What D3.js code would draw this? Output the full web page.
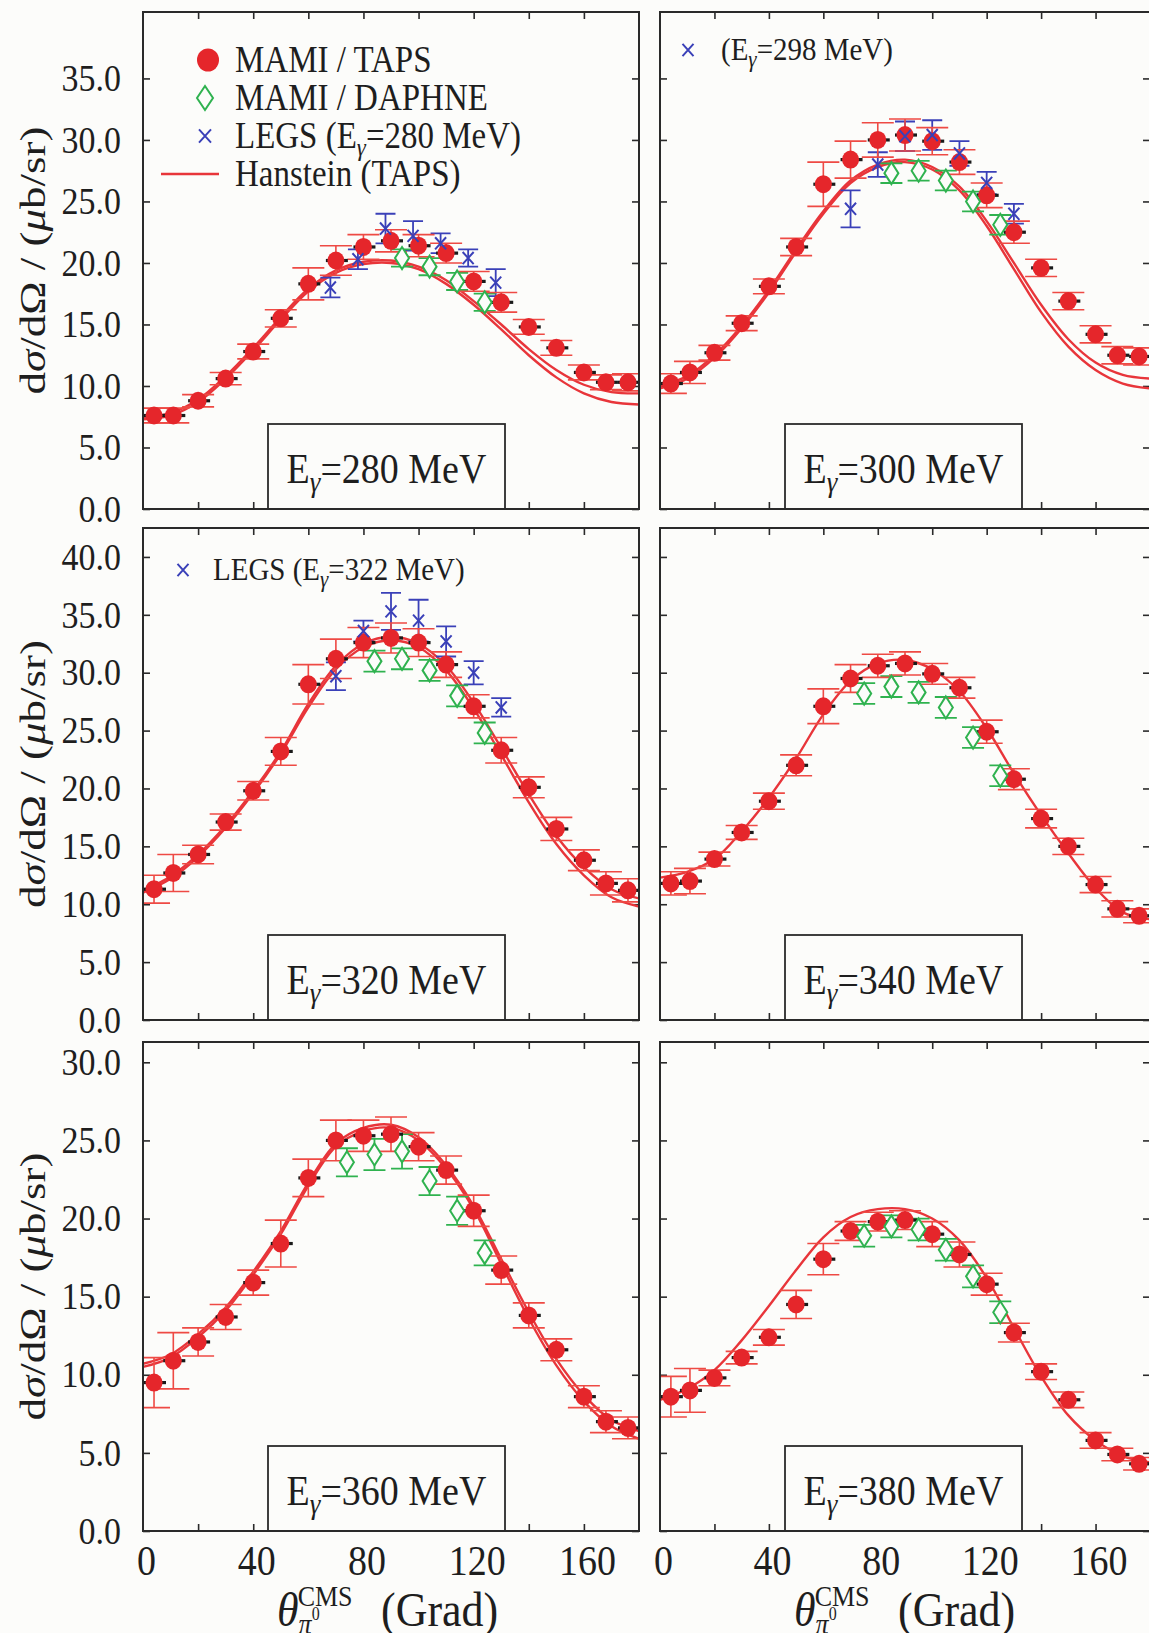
<!DOCTYPE html>
<html>
<head>
<meta charset="utf-8">
<script src="https://cdn.jsdelivr.net/npm/d3@7"></script>
<style>
  html, body { margin: 0; padding: 0; background: #fcfcfa; }
  svg { display: block; }
  text { font-family: "Liberation Serif", "Times New Roman", serif; fill: #1e1e1e; }
</style>
</head>
<body>
<svg id="chart" width="1149" height="1633"></svg>
<script>
// ---------------- data ----------------
// pi0 CMS angles (degrees) of the MAMI/TAPS bins
const tapsAngles = [4, 11, 20, 30, 40, 50, 60, 70, 80, 90, 100, 110, 120, 130, 140, 150, 160, 168, 176];
// angles at which the Hanstein prediction is tabulated
const curveAngles = [0, 10, 20, 30, 40, 50, 60, 70, 80, 90, 100, 110, 120, 130, 140, 150, 160, 170, 180];
const energies = [280, 300, 320, 340, 360, 380];

// MAMI / TAPS  dsigma/dOmega (mub/sr) and errors
const taps280 = [7.6, 7.6, 8.8, 10.6, 12.8, 15.5, 18.3, 20.2, 21.3, 21.8, 21.4, 20.8, 18.5, 16.8, 14.8, 13.1, 11.1, 10.3, 10.3];
const tapsErr280 = [0.6, 0.6, 0.5, 0.5, 0.6, 0.7, 1.3, 1.2, 1.0, 0.9, 0.9, 0.8, 0.8, 0.8, 0.6, 0.6, 0.6, 0.6, 0.7];
const taps300 = [10.2, 11.1, 12.7, 15.1, 18.1, 21.3, 26.4, 28.4, 30.0, 30.4, 29.9, 28.2, 25.5, 22.5, 19.6, 16.9, 14.2, 12.5, 12.4];
const tapsErr300 = [0.8, 0.9, 0.6, 0.6, 0.6, 0.7, 1.8, 1.5, 1.4, 1.3, 1.1, 1.0, 1.0, 0.9, 0.7, 0.7, 0.7, 0.7, 0.7];
const taps320 = [11.3, 12.7, 14.3, 17.1, 19.8, 23.2, 29.0, 31.2, 32.6, 33.0, 32.6, 30.7, 27.1, 23.3, 20.1, 16.5, 13.8, 11.8, 11.2];
const tapsErr320 = [1.2, 1.6, 0.8, 0.7, 0.8, 1.2, 1.7, 1.7, 1.3, 1.3, 1.2, 1.1, 1.0, 1.1, 0.9, 1.0, 0.9, 1.0, 1.0];
const taps340 = [11.8, 12.0, 13.9, 16.2, 18.9, 22.0, 27.1, 29.5, 30.6, 30.8, 29.9, 28.7, 24.9, 20.8, 17.4, 15.0, 11.7, 9.6, 9.0];
const tapsErr340 = [1.0, 1.1, 0.6, 0.6, 0.7, 0.9, 1.5, 1.2, 1.0, 1.0, 0.9, 0.9, 1.0, 0.9, 0.8, 0.7, 0.7, 0.7, 0.6];
const taps360 = [9.5, 10.9, 12.1, 13.7, 15.9, 18.4, 22.6, 25.0, 25.3, 25.4, 24.6, 23.1, 20.5, 16.7, 13.8, 11.6, 8.6, 7.0, 6.6];
const tapsErr360 = [1.6, 1.8, 0.9, 0.8, 0.8, 1.5, 1.2, 1.3, 1.0, 1.1, 0.9, 0.9, 1.0, 0.9, 0.8, 0.7, 0.7, 0.7, 0.7];
const taps380 = [8.6, 9.0, 9.8, 11.1, 12.4, 14.5, 17.4, 19.2, 19.8, 19.9, 19.0, 17.7, 15.8, 12.7, 10.2, 8.4, 5.8, 4.9, 4.3];
const tapsErr380 = [1.3, 1.4, 0.5, 0.4, 0.5, 0.9, 1.0, 0.6, 0.6, 0.6, 0.8, 0.8, 0.7, 0.6, 0.5, 0.5, 0.5, 0.4, 0.4];

// MAMI / DAPHNE
const daphneAngles280 = [94, 104, 114, 124];
const daphne280 = [20.4, 19.7, 18.5, 16.8];
const daphneErr280 = [0.7, 0.7, 0.7, 0.7];
const daphneAngles300 = [85, 95, 105, 115, 125];
const daphne300 = [27.3, 27.5, 26.7, 25.0, 23.1];
const daphneErr300 = [0.8, 0.8, 0.8, 0.8, 0.8];
const daphneAngles320 = [84, 94, 104, 114, 124];
const daphne320 = [31.0, 31.2, 30.2, 28.0, 24.8];
const daphneErr320 = [0.9, 0.9, 0.9, 0.9, 0.9];
const daphneAngles340 = [75, 85, 95, 105, 115, 125];
const daphne340 = [28.2, 28.8, 28.3, 27.0, 24.4, 21.1];
const daphneErr340 = [0.9, 0.9, 0.9, 0.9, 0.9, 0.9];
const daphneAngles360 = [74, 84, 94, 104, 114, 124];
const daphne360 = [23.6, 24.1, 24.3, 22.4, 20.5, 17.8];
const daphneErr360 = [0.9, 1.0, 1.1, 0.9, 0.9, 0.8];
const daphneAngles380 = [75, 85, 95, 105, 115, 125];
const daphne380 = [18.9, 19.5, 19.3, 18.0, 16.3, 14.0];
const daphneErr380 = [0.7, 0.7, 0.7, 0.7, 0.7, 0.7];

// LEGS (280, 298 and 322 MeV)
const legsAngles280 = [68, 78, 88, 98, 108, 118, 128];
const legs280 = [18.0, 20.3, 22.8, 22.2, 21.6, 20.4, 18.4];
const legsErr280 = [0.8, 0.8, 1.2, 1.2, 0.8, 0.7, 1.1];
const legsAngles298 = [70, 80, 90, 100, 110, 120, 130];
const legs298 = [24.4, 28.0, 30.3, 30.4, 28.9, 26.5, 24.0];
const legsErr298 = [1.5, 1.0, 1.2, 1.2, 1.0, 0.9, 0.8];
const legsAngles322 = [70, 80, 90, 100, 110, 120, 130];
const legs322 = [29.7, 33.6, 35.3, 34.5, 32.7, 30.0, 27.0];
const legsErr322 = [1.2, 0.9, 1.6, 1.8, 1.3, 1.0, 0.8];

// Hanstein (TAPS) prediction, two variants where they separate
const hanstein280 = [7.3, 7.6, 8.7, 10.6, 12.9, 15.4, 17.7, 19.2, 19.9, 20.0, 19.5, 18.3, 16.6, 14.6, 12.5, 10.7, 9.4, 8.7, 8.5];
const hanstein280b = [7.5, 7.8, 8.9, 10.8, 13.1, 15.6, 17.9, 19.4, 20.1, 20.2, 19.7, 18.6, 16.9, 15.0, 13.0, 11.3, 10.1, 9.5, 9.4];
const hanstein300 = [9.8, 10.6, 12.3, 14.7, 17.6, 20.9, 24.0, 26.5, 27.8, 28.2, 27.6, 25.9, 23.0, 19.5, 16.0, 13.2, 11.3, 10.2, 9.8];
const hanstein300b = [10.0, 10.8, 12.5, 14.9, 17.8, 21.1, 24.2, 26.7, 28.0, 28.4, 27.8, 26.2, 23.4, 20.0, 16.6, 13.8, 11.9, 10.9, 10.6];
const hanstein320 = [11.0, 12.2, 14.1, 16.6, 19.6, 23.0, 27.0, 30.3, 32.2, 32.8, 32.2, 30.2, 26.9, 22.9, 18.8, 15.2, 12.5, 10.6, 9.8];
const hanstein320b = [11.2, 12.4, 14.3, 16.8, 19.8, 23.2, 27.3, 30.6, 32.5, 33.1, 32.5, 30.6, 27.4, 23.5, 19.5, 15.9, 13.2, 11.3, 10.5];
const hanstein340 = [12.3, 12.8, 13.9, 16.3, 19.2, 22.6, 26.4, 29.3, 30.8, 31.1, 30.3, 28.4, 25.2, 21.3, 17.7, 14.4, 11.4, 9.3, 8.7];
const hanstein360 = [10.5, 11.1, 12.4, 14.1, 16.4, 19.0, 22.1, 24.6, 25.6, 25.8, 25.0, 23.2, 20.6, 17.1, 13.6, 10.6, 8.3, 6.7, 5.9];
const hanstein360b = [10.7, 11.3, 12.6, 14.3, 16.6, 19.2, 22.3, 24.8, 25.8, 26.0, 25.2, 23.4, 20.8, 17.4, 14.0, 11.0, 8.7, 7.1, 6.4];
const hanstein380 = [8.4, 9.1, 10.3, 12.2, 14.4, 16.7, 18.8, 20.1, 20.6, 20.6, 20.0, 18.6, 16.2, 13.0, 9.9, 7.4, 5.8, 4.8, 4.4];

// axis ranges and tick labels per row
const yMaxByRow = [40.4, 42.5, 31.3];
const yTickLabelsRow1 = [0, 5, 10, 15, 20, 25, 30, 35];
const yTickLabelsRow2 = [0, 5, 10, 15, 20, 25, 30, 35, 40];
const yTickLabelsRow3 = [0, 5, 10, 15, 20, 25, 30];
const xTickLabels = [0, 40, 80, 120, 160];
const xTickMarks = [20, 40, 60, 80, 100, 120, 140, 160];

// ---------------- layout ----------------
const SY = 1.12;                       // vertical stretch of the lettering
const colX = [[143, 639], [660, 1150]];
const rowY = [[12, 509], [528, 1020], [1042, 1531]];
const yTickLabelsByRow = [yTickLabelsRow1, yTickLabelsRow2, yTickLabelsRow3];

const RED = "#e5262b", RED_ERR = "#ee4a44", GREEN = "#2fb24f", BLUE = "#3a40b8", FRAME = "#2a2a2a";

const panels = [
  { e: energies[0], row: 0, col: 0, taps: taps280, tapsErr: tapsErr280,
    dA: daphneAngles280, d: daphne280, dE: daphneErr280,
    lA: legsAngles280, l: legs280, lE: legsErr280, curves: [hanstein280, hanstein280b] },
  { e: energies[1], row: 0, col: 1, taps: taps300, tapsErr: tapsErr300,
    dA: daphneAngles300, d: daphne300, dE: daphneErr300,
    lA: legsAngles298, l: legs298, lE: legsErr298, curves: [hanstein300, hanstein300b] },
  { e: energies[2], row: 1, col: 0, taps: taps320, tapsErr: tapsErr320,
    dA: daphneAngles320, d: daphne320, dE: daphneErr320,
    lA: legsAngles322, l: legs322, lE: legsErr322, curves: [hanstein320, hanstein320b] },
  { e: energies[3], row: 1, col: 1, taps: taps340, tapsErr: tapsErr340,
    dA: daphneAngles340, d: daphne340, dE: daphneErr340, lA: [], l: [], lE: [], curves: [hanstein340] },
  { e: energies[4], row: 2, col: 0, taps: taps360, tapsErr: tapsErr360,
    dA: daphneAngles360, d: daphne360, dE: daphneErr360, lA: [], l: [], lE: [], curves: [hanstein360, hanstein360b] },
  { e: energies[5], row: 2, col: 1, taps: taps380, tapsErr: tapsErr380,
    dA: daphneAngles380, d: daphne380, dE: daphneErr380, lA: [], l: [], lE: [], curves: [hanstein380] }
];

const svg = d3.select("#chart");
svg.append("rect").attr("width", 1149).attr("height", 1633).attr("fill", "#fcfcfa");

// text placed with a slight vertical stretch
function label(parent, x, y, size, anchor) {
  return parent.append("text")
    .attr("transform", `translate(${x},${y}) scale(1,${SY})`)
    .attr("font-size", size)
    .attr("text-anchor", anchor || "start");
}

function crossPath(g, cx, cy, s, color, w) {
  g.append("path")
    .attr("d", `M${cx - s},${cy - s * 1.1}L${cx + s},${cy + s * 1.1}M${cx - s},${cy + s * 1.1}L${cx + s},${cy - s * 1.1}`)
    .attr("stroke", color).attr("stroke-width", w).attr("fill", "none");
}

function diamondPath(g, cx, cy, hw, hh, color, w) {
  g.append("path")
    .attr("d", `M${cx},${cy - hh}L${cx + hw},${cy}L${cx},${cy + hh}L${cx - hw},${cy}Z`)
    .attr("stroke", color).attr("stroke-width", w).attr("fill", "#fcfcfa");
}

function errorBar(g, x, y, ang, v, e, cap, color, w) {
  const cx = x(ang), yt = y(v + e), yb = y(v - e);
  g.append("path")
    .attr("d", `M${cx},${yt}L${cx},${yb}M${cx - cap},${yt}L${cx + cap},${yt}M${cx - cap},${yb}L${cx + cap},${yb}`)
    .attr("stroke", color).attr("stroke-width", w).attr("fill", "none");
}

panels.forEach((p, i) => {
  const [x0, x1] = colX[p.col];
  const [y0, y1] = rowY[p.row];
  const x = d3.scaleLinear().domain([0, 180]).range([x0, x1]);
  const y = d3.scaleLinear().domain([0, yMaxByRow[p.row]]).range([y1, y0]);
  const yTicks = yTickLabelsByRow[p.row];

  const g = svg.append("g");
  const clipId = "clip" + i;
  svg.append("clipPath").attr("id", clipId)
    .append("rect").attr("x", x0).attr("y", y0).attr("width", x1 - x0).attr("height", y1 - y0);

  // inward ticks on all four sides
  const tickLen = 7;
  g.append("g").attr("transform", `translate(${x0},0)`)
    .call(d3.axisLeft(y).tickValues(yTicks).tickSize(-tickLen).tickFormat(""))
    .call(a => a.select(".domain").remove());
  g.append("g").attr("transform", `translate(${x1},0)`)
    .call(d3.axisRight(y).tickValues(yTicks).tickSize(-tickLen).tickFormat(""))
    .call(a => a.select(".domain").remove());
  g.append("g").attr("transform", `translate(0,${y1})`)
    .call(d3.axisBottom(x).tickValues(xTickMarks).tickSize(-tickLen).tickFormat(""))
    .call(a => a.select(".domain").remove());
  g.append("g").attr("transform", `translate(0,${y0})`)
    .call(d3.axisTop(x).tickValues(xTickMarks).tickSize(-tickLen).tickFormat(""))
    .call(a => a.select(".domain").remove());
  g.selectAll(".tick line").attr("stroke", FRAME).attr("stroke-width", 1.6);

  // y tick labels on the left column
  if (p.col === 0) {
    const ya = g.append("g").attr("transform", `translate(${x0},0)`)
      .call(d3.axisLeft(y).tickValues(yTicks).tickSize(0).tickPadding(22).tickFormat(d3.format(".1f")));
    ya.select(".domain").remove();
    ya.selectAll("text")
      .attr("font-size", 34).attr("fill", "#1e1e1e")
      .attr("font-family", "Liberation Serif, serif")
      .attr("transform", `scale(1,${SY})`);

    // y title
    const cy = (y0 + y1) / 2;
    const t = svg.append("text")
      .attr("transform", `translate(45,${cy}) rotate(-90)`)
      .attr("font-size", 35).attr("text-anchor", "middle")
      .attr("textLength", 268).attr("lengthAdjust", "spacingAndGlyphs");
    t.append("tspan").text("d");
    t.append("tspan").attr("font-style", "italic").text("σ");
    t.append("tspan").text("/dΩ / (");
    t.append("tspan").attr("font-style", "italic").text("μ");
    t.append("tspan").text("b/sr)");
  }

  // x tick labels and title on the bottom row
  if (p.row === 2) {
    const xa = g.append("g").attr("transform", `translate(0,${y1})`)
      .call(d3.axisBottom(x).tickValues(xTickLabels).tickSize(0).tickFormat(d3.format("d")));
    xa.select(".domain").remove();
    xa.selectAll("text")
      .attr("y", 0).attr("dy", null)
      .attr("font-size", 38).attr("fill", "#1e1e1e")
      .attr("font-family", "Liberation Serif, serif")
      .attr("transform", `translate(3,44) scale(1,${SY})`);

    // theta with pi0 subscript and CMS superscript, as one text run
    const th = label(svg, x0 + 134, 1626, 44, "start");
    th.append("tspan").attr("font-style", "italic").text("θ");
    th.append("tspan").attr("font-size", 26).attr("font-style", "italic").attr("dy", 7).text("π");
    th.append("tspan").attr("font-size", 16).attr("dy", -12).text("0");
    th.append("tspan").attr("font-size", 26).attr("dx", -22).attr("dy", -13).text("CMS");
    label(svg, x0 + 238, 1626, 44, "start").text("(Grad)");
  }

  const plot = g.append("g").attr("clip-path", `url(#${clipId})`);

  // Hanstein curves
  const line = d3.line()
    .x((d, k) => x(curveAngles[k]))
    .y(d => y(d))
    .curve(d3.curveCatmullRom.alpha(0.5));
  p.curves.forEach(c => {
    plot.append("path").attr("d", line(c))
      .attr("fill", "none").attr("stroke", "#e8353a").attr("stroke-width", 2.4);
  });

  // LEGS
  p.lA.forEach((a, k) => {
    errorBar(plot, x, y, a, p.l[k], p.lE[k], 10, BLUE, 1.8);
  });
  // DAPHNE
  p.dA.forEach((a, k) => {
    errorBar(plot, x, y, a, p.d[k], p.dE[k], 11, GREEN, 1.8);
  });
  // TAPS
  tapsAngles.forEach((a, k) => {
    errorBar(plot, x, y, a, p.taps[k], p.tapsErr[k], 16, RED_ERR, 1.6);
  });
  tapsAngles.forEach((a, k) => {
    const cx = x(a), cy = y(p.taps[k]);
    plot.append("path").attr("d", `M${cx - 10},${cy}L${cx + 12},${cy}`)
      .attr("stroke", "#1a1a1a").attr("stroke-width", 3.2);
    plot.append("ellipse").attr("cx", cx).attr("cy", cy).attr("rx", 8.5).attr("ry", 9)
      .attr("fill", RED);
  });
  p.dA.forEach((a, k) => {
    diamondPath(plot, x(a), y(p.d[k]), 7, 11, GREEN, 2);
  });
  p.lA.forEach((a, k) => {
    crossPath(plot, x(a), y(p.l[k]), 5.5, BLUE, 2);
  });

  // energy label box
  const bx = x0 + 125, bw = 237, bh = 85;
  g.append("rect").attr("x", bx).attr("y", y1 - bh).attr("width", bw).attr("height", bh)
    .attr("fill", "#fcfcfa").attr("stroke", FRAME).attr("stroke-width", 1.8);
  const el = label(g, bx + bw / 2, y1 - 26, 38, "middle");
  el.append("tspan").text("E");
  el.append("tspan").attr("font-size", 27).attr("font-style", "italic").attr("dy", 8).text("γ");
  el.append("tspan").attr("dy", -8).text("=" + p.e + " MeV");

  // frame
  g.append("rect").attr("x", x0).attr("y", y0).attr("width", x1 - x0).attr("height", y1 - y0)
    .attr("fill", "none").attr("stroke", FRAME).attr("stroke-width", 2);
});

// ---------------- legends ----------------
const lg = svg.append("g");
lg.append("ellipse").attr("cx", 208).attr("cy", 60).attr("rx", 11).attr("ry", 11.5).attr("fill", RED);
label(lg, 235, 72, 33).text("MAMI / TAPS");
diamondPath(lg, 205, 98, 8, 12, GREEN, 2);
label(lg, 235, 110, 33).text("MAMI / DAPHNE");
crossPath(lg, 205, 136, 6, BLUE, 2);
const t3 = label(lg, 235, 148, 33);
t3.append("tspan").text("LEGS (E");
t3.append("tspan").attr("font-size", 23).attr("font-style", "italic").attr("dy", 7).text("γ");
t3.append("tspan").attr("dy", -7).text("=280 MeV)");
lg.append("path").attr("d", "M161,174L219,174").attr("stroke", "#e8353a").attr("stroke-width", 2.6);
label(lg, 235, 186, 33).text("Hanstein (TAPS)");

// LEGS energy notes
crossPath(lg, 688, 50, 5.5, BLUE, 2);
const t4 = label(lg, 721, 60, 29);
t4.append("tspan").text("(E");
t4.append("tspan").attr("font-size", 21).attr("font-style", "italic").attr("dy", 6).text("γ");
t4.append("tspan").attr("dy", -6).text("=298 MeV)");

crossPath(lg, 183, 570, 5.5, BLUE, 2);
const t5 = label(lg, 213, 580, 29);
t5.append("tspan").text("LEGS (E");
t5.append("tspan").attr("font-size", 21).attr("font-style", "italic").attr("dy", 6).text("γ");
t5.append("tspan").attr("dy", -6).text("=322 MeV)");
</script>
</body>
</html>
